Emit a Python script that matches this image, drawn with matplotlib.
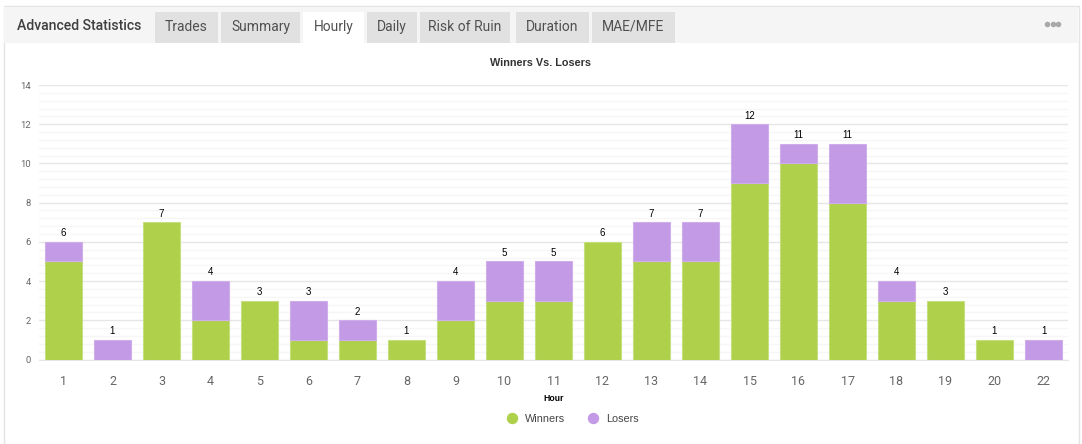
import matplotlib
matplotlib.use("Agg")
import matplotlib.pyplot as plt
from matplotlib.patches import Rectangle
from matplotlib.lines import Line2D
from matplotlib.ticker import MultipleLocator
import numpy as np

plt.rcParams['font.family'] = ['Roboto', 'DejaVu Sans']

hours = ['1','2','3','4','5','6','7','8','9','10','11','12','13','14','15','16','17','18','19','20','22']
winners = [5,0,7,2,3,1,1,1,2,3,3,6,5,5,9,10,8,3,3,1,0]
losers = [1,1,0,2,0,2,1,0,2,2,2,0,2,2,3,1,3,1,0,0,1]
tabs = ['Trades','Summary','Hourly','Daily','Risk of Ruin','Duration','MAE/MFE']
tab_left = [155,221,303,367,420,516,592]
tab_right = [218,300,364,417,510,589,675]

W, H = 1082, 444
fig = plt.figure(figsize=(W/100, H/100), dpi=100, facecolor='white')

# page chrome, in pixel coordinates
bg = fig.add_axes([0, 0, 1, 1])
bg.set_xlim(0, W); bg.set_ylim(H, 0); bg.axis('off')
bg.add_patch(Rectangle((3.5, 6.5), 1075, 440, fc='white', ec='#e4e4e4', lw=1))
bg.add_patch(Rectangle((4, 7), 1074, 36, fc='#f5f5f5', ec='none'))
bg.text(17, 26.5, 'Advanced Statistics', fontsize=10.05, fontweight='medium', color='#3f3f3f', va='center', ha='left')
for name, l, r in zip(tabs, tab_left, tab_right):
    active = name == 'Hourly'
    bg.add_patch(Rectangle((l, 12), r-l, 31, fc='white' if active else '#e1e1e1', ec='none'))
    bg.text((l+r)/2, 26.8, name, fontsize=10, color='#505050', va='center', ha='center')
bg.plot([1047, 1053, 1058], [24, 24, 24], 'o', ms=4, color='#a8a8a8', mec='none')

# chart
left, right, top, bottom = 39, 1068, 85, 359.5
ax = fig.add_axes([left/W, 1-bottom/H, (right-left)/W, (bottom-top)/H])
ax.patch.set_alpha(0)
x = np.arange(len(hours))
green, purple = '#aed04b', '#c29ae5'
w_arr, l_arr = np.array(winners), np.array(losers)
w_on, l_on = w_arr > 0, l_arr > 0
ax.bar(x[w_on], w_arr[w_on], width=0.77, color=green, edgecolor='#c6df80', linewidth=0.8, zorder=3)
ax.bar(x[l_on], l_arr[l_on], width=0.77, bottom=w_arr[l_on], color=purple, edgecolor='#cfaeeb', linewidth=0.8, zorder=3)
for xi, t in zip(x, w_arr + l_arr):
    ax.annotate(str(t), (xi, t), xytext=(0, 2.6), textcoords='offset points', ha='center', va='bottom',
                fontsize=7, color='black', family=['Liberation Sans', 'DejaVu Sans'])
ax.set_xlim(-0.5, len(hours)-0.5)
ax.set_ylim(0, 14)
ax.yaxis.set_major_locator(MultipleLocator(2))
ax.yaxis.set_minor_locator(MultipleLocator(0.4))
ax.grid(True, which='major', axis='y', color='#e6e6e6', lw=1, zorder=0)
ax.grid(True, which='minor', axis='y', color='#f6f6f6', lw=1, zorder=0)
ax.set_axisbelow(True)
for s in ['top', 'right', 'left']:
    ax.spines[s].set_visible(False)
ax.spines['bottom'].set_color('#e6e6e6')
ax.set_xticks(x, hours)
ax.tick_params(axis='x', length=0, pad=11, labelsize=9, labelcolor='#666666')
ax.tick_params(axis='y', which='both', length=0, pad=6, labelsize=6.8, labelcolor='#666666')
ax.set_xlabel('Hour', fontsize=6.2, fontweight='bold', color='black', labelpad=4.5, family=['Liberation Sans', 'DejaVu Sans'])
fig.text(541/W, 1-62.5/H, 'Winners Vs. Losers', fontsize=7.8, fontweight='bold', color='#333333',
         ha='center', va='center', family=['Liberation Sans', 'DejaVu Sans'])

handles = [Line2D([], [], ls='', marker='o', ms=8.2, color=green, mec='none', label='Winners'),
           Line2D([], [], ls='', marker='o', ms=8.2, color=purple, mec='none', label='Losers')]
fig.legend(handles=handles, loc='center', bbox_to_anchor=(570/W, 1-419/H), ncol=2, frameon=False,
           labelcolor='#444444', handletextpad=0.2, columnspacing=1.63, prop={'family': ['Liberation Sans', 'DejaVu Sans'], 'size': 7.8})

fig.savefig('out.png', dpi=100)
